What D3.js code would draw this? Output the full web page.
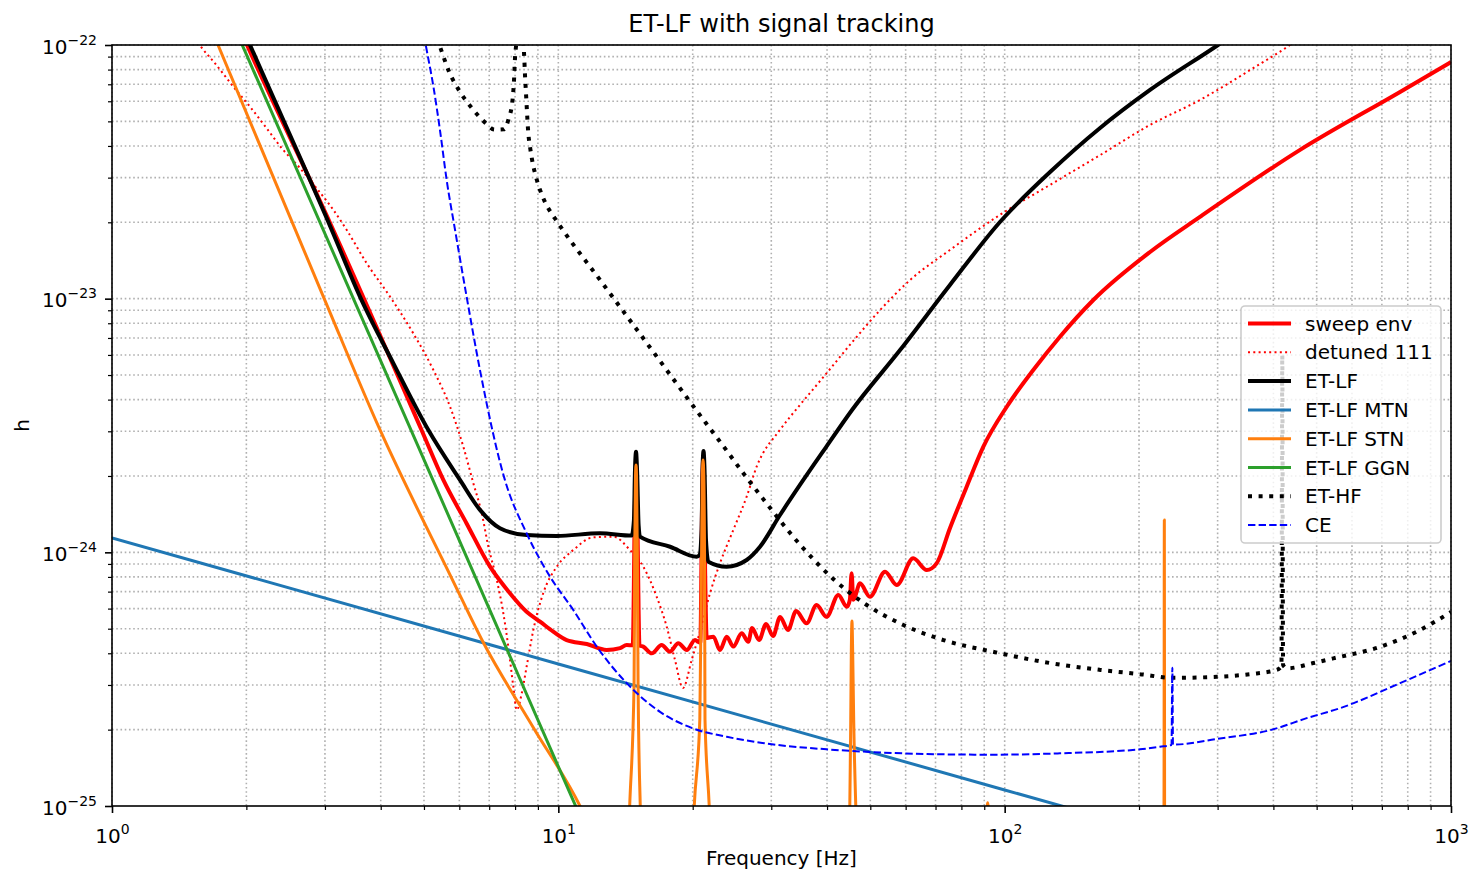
<!DOCTYPE html>
<html><head><meta charset="utf-8">
<script src="https://cdn.jsdelivr.net/npm/d3@7"></script>
<style>
body{margin:0;background:#fff}
text{font-family:"DejaVu Sans",sans-serif;fill:#000}
</style>
</head><body>
<svg id="c" width="1482" height="883"></svg>
<script>
// ---------- data (frequency [Hz], strain h) ----------
const xTicks = [1, 10, 100, 1000];
const xTickExp = ["0", "1", "2", "3"];
const yTicks = [1e-25, 1e-24, 1e-23, 1e-22];
const yTickExp = ["\u221225", "\u221224", "\u221223", "\u221222"];

const sweepEnv = [
[1.8,1.55e-22],[2.007,1e-22],[3.079,1.99e-23],[4.94,3.03e-24],[5.525,1.93e-24],[6.23,1.30e-24],[7.03,8.78e-25],
[7.79,6.90e-25],[8.49,5.83e-25],[9.10,5.33e-25],[9.74,4.87e-25],[10.44,4.51e-25],[11.58,4.35e-25],[12.83,4.12e-25],
[13.75,4.19e-25],[14.23,4.31e-25],[14.68,4.3e-25],[14.85,1.6e-24],[14.93,2.2e-24],[15.01,1.6e-24],[15.2,4.3e-25],
[15.5,4.25e-25],[16.19,4.0e-25],[17.04,4.31e-25],[17.79,4.06e-25],[18.57,4.38e-25],[19.4,4.12e-25],[20.24,4.51e-25],
[20.8,4.4e-25],[21.0,1.6e-24],[21.1,2.3e-24],[21.2,1.6e-24],[21.5,4.6e-25],[22.25,4.65e-25],[23.02,4.12e-25],
[23.84,4.65e-25],[24.66,4.25e-25],[25.75,4.80e-25],[26.65,4.44e-25],[27.16,5.03e-25],[28.17,4.51e-25],[29.2,5.22e-25],
[30.27,4.68e-25],[31.4,5.56e-25],[32.7,4.94e-25],[34.1,5.87e-25],[36.0,5.25e-25],[37.9,6.20e-25],[39.9,5.57e-25],
[42.4,6.79e-25],[44.3,6.10e-25],[45.0,6.5e-25],[45.4,8.27e-25],[45.8,6.5e-25],[46.2,6.68e-25],[47.4,7.55e-25],
[49.9,6.68e-25],[53.95,8.39e-25],[57.3,7.43e-25],[62.4,9.47e-25],[66.9,8.52e-25],[70.4,9.05e-25],[75.4,1.245e-24],
[82.2,1.815e-24],[89.6,2.61e-24],[101.1,3.75e-24],[115.9,5.23e-24],[133.0,7.08e-24],[158.0,9.88e-24],[211.7,1.528e-23],
[273.8,2.10e-23],[459,3.86e-23],[768.8,6.53e-23],[1000,8.57e-23]
];

const detuned111 = [
[1.535,1.066e-22],[1.588,9.77e-23],[1.701,8.47e-23],[1.870,6.85e-23],[2.038,5.71e-23],[2.222,4.69e-23],[2.40,3.92e-23],
[2.638,3.27e-23],[2.875,2.72e-23],[3.132,2.24e-23],[3.357,1.865e-23],[3.722,1.378e-23],[4.197,1.018e-23],[4.732,7.30e-24],
[5.25,5.23e-24],[5.72,3.75e-24],[6.125,2.61e-24],[6.45,1.872e-24],[6.735,1.426e-24],[6.97,1.053e-24],[7.28,7.78e-25],
[7.53,5.75e-25],[7.725,4.25e-25],[7.93,2.95e-25],[8.07,2.39e-25],[8.28,2.78e-25],[8.49,3.54e-25],[8.79,4.94e-25],
[9.25,6.90e-25],[9.92,8.78e-25],[10.80,1.021e-24],[11.98,1.146e-24],[13.28,1.153e-24],[14.47,1.021e-24],[15.5,8.78e-25],
[16.61,6.68e-25],[17.49,5.09e-25],[18.25,3.77e-25],[19.02,2.92e-25],[19.9,3.77e-25],[20.77,4.88e-25],[21.87,6.90e-25],
[23.02,9.05e-25],[24.66,1.225e-24],[26.42,1.657e-24],[27.83,2.18e-24],[31.38,3.04e-24],[34.78,3.81e-24],[39.6,5.0e-24],
[45.0,6.57e-24],[52.6,9.02e-24],[61.4,1.185e-23],[75.4,1.556e-23],[97.6,2.14e-23],[126.4,2.81e-23],[163.6,3.68e-23],
[211.7,4.84e-23],[273.8,6.07e-23],[354.5,7.96e-23],[435.8,1e-22],[460,1.07e-22]
];

const etLF = [
[1.8,1.65e-22],[2.038,1e-22],[3.107,1.866e-23],[3.594,1.019e-23],[4.27,5.56e-24],[5.11,3.04e-24],[6.02,1.93e-24],
[6.675,1.47e-24],[7.40,1.245e-24],[8.49,1.17e-24],[9.92,1.16e-24],[12.4,1.189e-24],[14.6,1.164e-24],[14.77,1.34e-24],
[14.85,2.11e-24],[14.93,2.49e-24],[15.01,2.11e-24],[15.13,1.28e-24],[15.24,1.153e-24],[17.8,1.052e-24],[20.42,9.61e-25],
[20.72,9.76e-25],[20.94,1.225e-24],[21.04,2.11e-24],[21.15,2.51e-24],[21.26,2.11e-24],[21.42,1.12e-24],[21.68,9.19e-25],
[23.84,8.78e-25],[26.42,9.33e-25],[28.3,1.052e-24],[31.38,1.403e-24],[34.78,1.843e-24],[39.8,2.60e-24],[45.5,3.64e-24],
[58.3,6.27e-24],[75.4,1.132e-23],[97.6,2.005e-23],[126.4,3.157e-23],[163.6,4.71e-23],[211.7,6.65e-23],[300.6,1e-22],
[400,1.42e-22]
];

const etLFmtn = [[1,1.14e-24],[10,3.63e-25],[100,1.157e-25],[1000,3.69e-26]];

const etLFstn = [
[1.5,1.81e-22],[1.728,1e-22],[2.975,1.019e-23],[3.986,3.036e-24],[5.77,7.90e-25],[6.79,4.41e-25],[8.80,2.03e-25],
[11.18,1e-25],[12.5,6.5e-26],
[14.25,5e-26],[14.45,1e-25],[14.78,3e-25],[14.83,1e-24],[14.89,2e-24],[14.93,2.21e-24],[14.97,2e-24],[15.03,1e-24],
[15.09,3e-25],[15.26,1e-25],[15.48,5e-26],
[19.83,5e-26],[20.16,1e-25],[20.75,2.2e-25],[20.94,1e-24],[21.02,2e-24],[21.1,2.31e-24],[21.18,2e-24],[21.26,1e-24],
[21.31,2.2e-25],[21.78,1e-25],[22.1,5e-26],
[44.1,5e-26],[44.98,1e-25],[45.2,2.2e-25],[45.33,4e-25],[45.49,5.36e-25],[45.66,4e-25],[45.89,2.2e-25],[46.39,1e-25],
[47.16,5e-26],
[90.5,8e-26],[91.6,1.03e-25],[92.7,8e-26],
[226.3,5e-26],[227.5,1e-25],[227.9,1.34e-24],[228.2,1e-25],[229.3,5e-26],[1000,5e-26]
];

const etLFggn = [[1,1.48e-21],[2,9.18e-23],[5,2.32e-24],[10,1.43e-25],[20,8.9e-27]];

const etHF = [
[5.35,1.066e-22],[5.48,9.41e-23],[5.70,7.80e-23],[6.00,6.60e-23],[6.40,5.64e-23],[6.885,4.91e-23],[7.19,4.64e-23],
[7.555,4.65e-23],[7.725,5.06e-23],[7.90,6.12e-23],[7.96,7.39e-23],[8.00,9.0e-23],[8.04,9.9e-23],[8.21,1.26e-22],
[8.38,9.21e-23],[8.42,7.61e-23],[8.47,6.29e-23],[8.52,5.19e-23],[8.55,4.68e-23],[8.655,3.89e-23],[8.73,3.54e-23],
[8.945,2.95e-23],[9.29,2.45e-23],[9.83,2.07e-23],[10.14,1.91e-23],[12.40,1.185e-23],[16.05,6.42e-24],[21.39,3.24e-24],
[23.63,2.57e-24],[25.97,2.05e-24],[27.83,1.75e-24],[35.39,1.037e-24],[41.3,7.85e-25],[49.1,6.20e-25],[59.3,5.17e-25],
[72.9,4.51e-25],[95.1,4.04e-25],[126.4,3.66e-25],[163.6,3.44e-25],[201.0,3.31e-25],[238.7,3.20e-25],[298.6,3.23e-25],
[354.5,3.31e-25],[407,3.44e-25],[417,3.56e-25],[418.8,6.0e-24],[420.5,3.6e-25],[429.2,3.49e-25],[491.6,3.66e-25],
[545,3.82e-25],[693.5,4.24e-25],[852,4.94e-25],[1000,5.82e-25]
];

const ce = [
[5.0,1.09e-22],[5.07,9.56e-23],[5.25,6.85e-23],[5.43,4.62e-23],[5.62,2.94e-23],[5.87,1.865e-23],[6.23,1.019e-23],
[6.675,5.23e-24],[7.59,1.93e-24],[8.49,1.189e-24],[9.58,8.02e-25],[10.80,5.93e-25],[12.19,4.25e-25],[14.23,3.05e-25],
[16.9,2.35e-25],[20.06,2.02e-25],[23.84,1.875e-25],[29.8,1.755e-25],[39.9,1.673e-25],[49.9,1.633e-25],[66.9,1.603e-25],
[94.3,1.593e-25],[133.0,1.613e-25],[201.0,1.673e-25],[222.8,1.713e-25],[236.5,1.74e-25],[237.5,3.51e-25],[238.3,1.745e-25],
[298.6,1.838e-25],[399.9,2.006e-25],[475,2.22e-25],[564,2.43e-25],[768.8,3.05e-25],[1000,3.73e-25]
];

const seriesNames = ["sweep env","detuned 111","ET-LF","ET-LF MTN","ET-LF STN","ET-LF GGN","ET-HF","CE"];

// ---------- styles ----------
const styles = [
  {data: sweepEnv,   color:"#ff0000", w:4,   dash:null},
  {data: detuned111, color:"#ff0000", w:2,   dash:"2,3.3"},
  {data: etLF,       color:"#000000", w:4,   dash:null},
  {data: etLFmtn,    color:"#1f77b4", w:3,   dash:null},
  {data: etLFstn,    color:"#ff7f0e", w:3,   dash:null},
  {data: etLFggn,    color:"#2ca02c", w:3,   dash:null},
  {data: etHF,       color:"#000000", w:4,   dash:"4,6.6"},
  {data: ce,         color:"#0000ff", w:2,   dash:"7.4,3.2"}
];

const M = {l:112, r:1451, t:45, b:806};
const svg = d3.select("#c");
const x = d3.scaleLog().domain([1,1000]).range([M.l, M.r]);
const y = d3.scaleLog().domain([1e-25,1e-22]).range([M.b, M.t]);

// grid (major + minor)
const grid = svg.append("g").attr("stroke","#b0b0b0").attr("stroke-width",1.6).attr("stroke-dasharray","1.6,2.64");
grid.selectAll("line.gx").data(x.ticks()).join("line")
  .attr("x1",d=>x(d)).attr("x2",d=>x(d)).attr("y1",M.t).attr("y2",M.b);
grid.selectAll("line.gy").data(y.ticks()).join("line").attr("class","gy")
  .attr("y1",d=>y(d)).attr("y2",d=>y(d)).attr("x1",M.l).attr("x2",M.r);

// clip
svg.append("clipPath").attr("id","clip").append("rect")
  .attr("x",M.l).attr("y",M.t).attr("width",M.r-M.l).attr("height",M.b-M.t);

const line = d3.line().x(d=>x(d[0])).y(d=>y(d[1])).curve(d3.curveMonotoneX);
const plot = svg.append("g").attr("clip-path","url(#clip)");
styles.forEach(s=>{
  plot.append("path").attr("d",line(s.data)).attr("fill","none")
    .attr("stroke",s.color).attr("stroke-width",s.w)
    .attr("stroke-dasharray",s.dash).attr("stroke-linejoin","round");
});

// axes
function styleAxis(g){ g.select(".domain").remove(); g.selectAll("line").attr("stroke","#000"); }
const minorX = x.ticks().filter(d=>!xTicks.includes(d));
const minorY = y.ticks().filter(d=>!yTicks.some(t=>Math.abs(t-d)/t<1e-6));

const gxm = svg.append("g").attr("transform",`translate(0,${M.b})`)
  .call(d3.axisBottom(x).tickValues(minorX).tickSize(4).tickFormat(()=>""));
styleAxis(gxm); gxm.selectAll("line").attr("stroke-width",1.2);
const gym = svg.append("g").attr("transform",`translate(${M.l},0)`)
  .call(d3.axisLeft(y).tickValues(minorY).tickSize(4).tickFormat(()=>""));
styleAxis(gym); gym.selectAll("line").attr("stroke-width",1.2);

const gx = svg.append("g").attr("transform",`translate(0,${M.b})`)
  .call(d3.axisBottom(x).tickValues(xTicks).tickSize(7).tickPadding(7).tickFormat(()=>""));
styleAxis(gx); gx.selectAll("line").attr("stroke-width",1.6);
gx.selectAll(".tick text").each(function(d,i){
  const t=d3.select(this);
  t.attr("y",null).attr("dy",null).attr("font-size",20).attr("font-family","DejaVu Sans")
   .attr("text-anchor","middle").attr("y",37);
  t.append("tspan").text("10");
  t.append("tspan").attr("dy",-9).attr("font-size",14).text(xTickExp[i]);
});
const gy = svg.append("g").attr("transform",`translate(${M.l},0)`)
  .call(d3.axisLeft(y).tickValues(yTicks).tickSize(7).tickPadding(7).tickFormat(()=>""));
styleAxis(gy); gy.selectAll("line").attr("stroke-width",1.6);
gy.selectAll(".tick text").each(function(d,i){
  const t=d3.select(this);
  t.attr("dy",null).attr("font-size",20).attr("font-family","DejaVu Sans")
   .attr("text-anchor","end").attr("x",-15).attr("y",8);
  t.append("tspan").text("10");
  t.append("tspan").attr("dy",-9).attr("font-size",14).text(yTickExp[i]);
});

// frame
svg.append("rect").attr("x",M.l).attr("y",M.t).attr("width",M.r-M.l).attr("height",M.b-M.t)
  .attr("fill","none").attr("stroke","#000").attr("stroke-width",1.6);

// title & labels
svg.append("text").attr("x",(M.l+M.r)/2).attr("y",32).attr("text-anchor","middle")
  .attr("font-size",24).text("ET-LF with signal tracking");
svg.append("text").attr("x",(M.l+M.r)/2).attr("y",865).attr("text-anchor","middle")
  .attr("font-size",20).text("Frequency [Hz]");
svg.append("text").attr("transform",`translate(29,${(M.t+M.b)/2}) rotate(-90)`).attr("text-anchor","middle")
  .attr("font-size",20).text("h");

// legend
const L = {x:1241, y:306, w:200, h:237};
const lg = svg.append("g");
lg.append("rect").attr("x",L.x).attr("y",L.y).attr("width",L.w).attr("height",L.h).attr("rx",4)
  .attr("fill","#fff").attr("fill-opacity",0.8).attr("stroke","#cccccc").attr("stroke-width",1.6);
seriesNames.forEach((n,i)=>{
  const cy = 323.5 + i*28.8;
  const s = styles[i];
  lg.append("line").attr("x1",1248).attr("x2",1291).attr("y1",cy).attr("y2",cy)
    .attr("stroke",s.color).attr("stroke-width",s.w).attr("stroke-dasharray",s.dash);
  lg.append("text").attr("x",1305).attr("y",cy+7).attr("font-size",20).text(n);
});
</script>
</body></html>
